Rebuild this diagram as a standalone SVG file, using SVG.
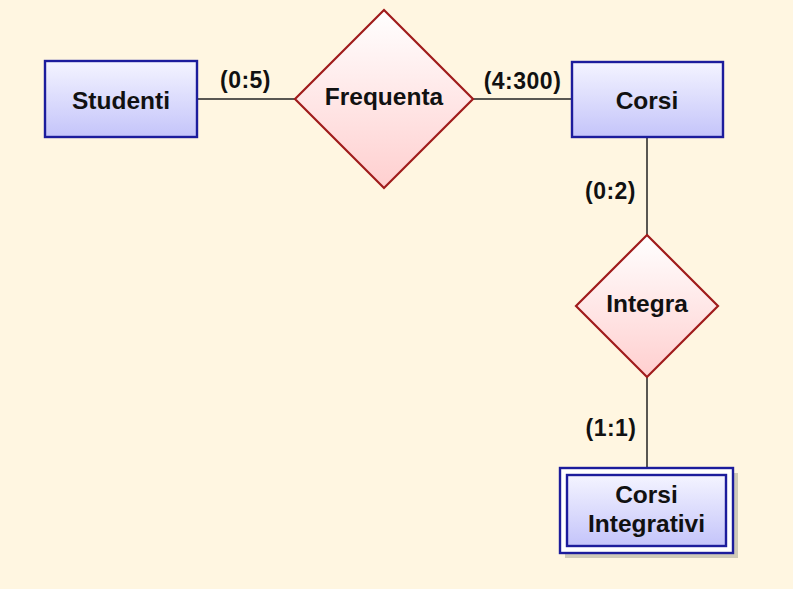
<svg xmlns="http://www.w3.org/2000/svg" width="793" height="589" viewBox="0 0 793 589">
<defs>
<linearGradient id="gEnt" x1="0" y1="0" x2="0" y2="1">
<stop offset="0" stop-color="#F4F4FF"/>
<stop offset="1" stop-color="#C4C4FA"/>
</linearGradient>
<linearGradient id="gRel" x1="0" y1="0" x2="0" y2="1">
<stop offset="0" stop-color="#FFFFFF"/>
<stop offset="1" stop-color="#FFCFCF"/>
</linearGradient>
</defs>
<style>
.ent{fill:url(#gEnt);stroke:#1C1C9C;stroke-width:2.4}
.rel{fill:url(#gRel);stroke:#A01C1C;stroke-width:2.2}
.t{font-family:"Liberation Sans",Arial,sans-serif;font-weight:bold;font-size:24.5px;fill:#111;text-anchor:middle}
.l{font-family:"Liberation Sans",Arial,sans-serif;font-weight:bold;font-size:23px;fill:#111;text-anchor:middle;letter-spacing:0.5px}
.c{stroke:#222;stroke-width:1.5;fill:none}
</style>
<rect x="0" y="0" width="793" height="589" fill="#FFF6E1"/>
<g id="connectors">
<line class="c" x1="197" y1="99" x2="295" y2="99"/>
<line class="c" x1="473" y1="99" x2="572" y2="99"/>
<line class="c" x1="647" y1="137" x2="647" y2="235"/>
<line class="c" x1="647" y1="377" x2="647" y2="468"/>
<text class="l" x="245.5" y="88">(0:5)</text>
<text class="l" x="522.5" y="89">(4:300)</text>
<text class="l" x="610.5" y="199">(0:2)</text>
<text class="l" x="611" y="436">(1:1)</text>
</g>
<g id="studenti">
<rect class="ent" x="45" y="61" width="152" height="76"/>
<text class="t" x="121" y="109">Studenti</text>
</g>
<g id="frequenta">
<polygon class="rel" points="384,10 473,99 384,188 295,99"/>
<text class="t" x="384" y="105">Frequenta</text>
</g>
<g id="corsi">
<rect class="ent" x="572" y="62" width="151" height="75"/>
<text class="t" x="647" y="109">Corsi</text>
</g>
<g id="integra">
<polygon class="rel" points="647,235 718,306 647,377 576,306"/>
<text class="t" x="647" y="312">Integra</text>
</g>
<g id="corsi-integrativi">
<rect x="565" y="473" width="173" height="85" fill="#CFCAB8"/>
<rect x="560" y="468" width="173" height="85" fill="#FFFFFF" stroke="#1C1C9C" stroke-width="2.4"/>
<rect class="ent" x="567" y="475" width="159" height="71"/>
<text class="t" x="646.5" y="503">Corsi</text>
<text class="t" x="646.5" y="532">Integrativi</text>
</g>
</svg>
